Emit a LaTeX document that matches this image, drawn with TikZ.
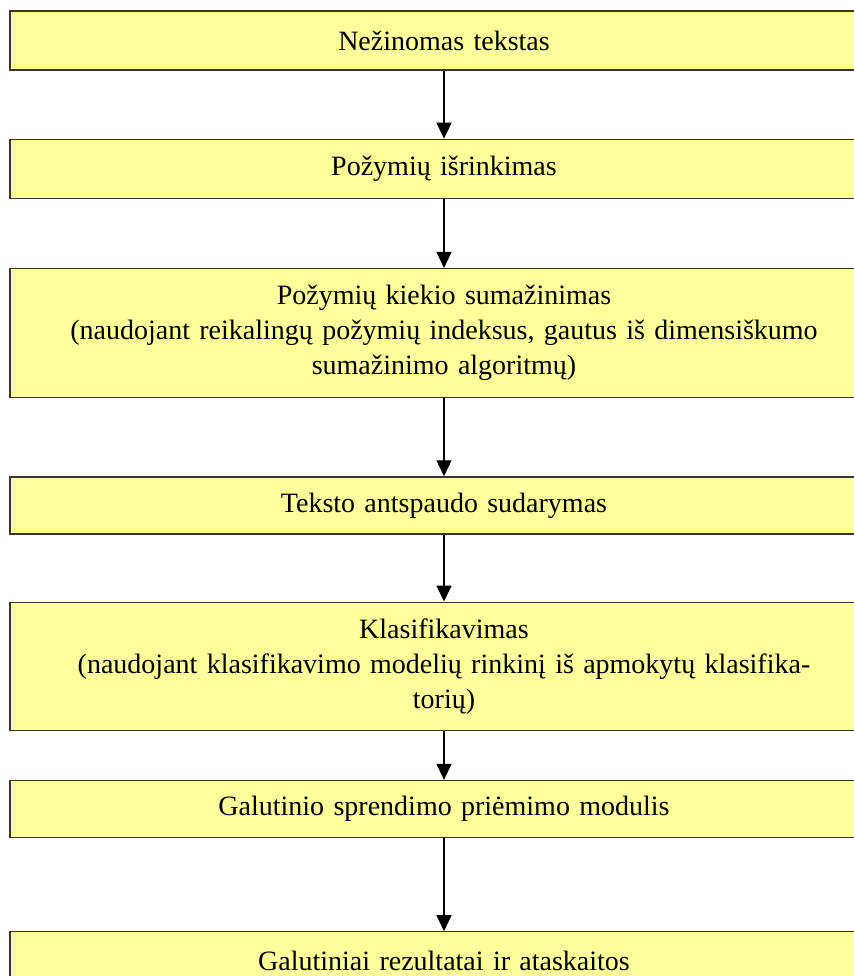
\documentclass[tikz,border=0pt]{standalone}
\usepackage{fontspec}
\setmainfont{Liberation Serif}
\usepackage{xcolor}
\usepackage{tikz}
\usetikzlibrary{positioning,arrows.meta}
\definecolor{paleyellow}{RGB}{255,255,155}
\definecolor{edgegray}{RGB}{55,55,50}
\tikzset{
  box/.style={draw=edgegray, line width=1.3pt, fill=paleyellow, minimum width=868pt,
              text width=850pt, inner xsep=9pt, inner ysep=4pt, align=center,
              font=\fontsize{28}{35}\selectfont},
  arrow/.style={-{Triangle[length=16pt,width=15pt]}, line width=1.4pt, black},
}

\begin{document}
\begin{tikzpicture}[x=1pt, y=1pt]
  \useasboundingbox (0,0) rectangle (853,-976);

  \node[box, minimum height=59pt] (s1) at (444,-40.5) {Nežinomas tekstas};
  \node[box, minimum height=59pt, below=68pt of s1]  (s2) {Požymių išrinkimas};
  \node[box, minimum height=129pt, below=69pt of s2] (s3) {Požymių kiekio sumažinimas\\
    (naudojant reikalingų požymių indeksus, gautus iš dimensiškumo\\ sumažinimo algoritmų)};
  \node[box, minimum height=57pt, below=78pt of s3]  (s4) {Teksto antspaudo sudarymas};
  \node[box, minimum height=128pt, below=67pt of s4] (s5) {Klasifikavimas\\
    (naudojant klasifikavimo modelių rinkinį iš apmokytų klasifika-\\ torių)};
  \node[box, minimum height=57pt, below=49pt of s5]  (s6) {Galutinio sprendimo priėmimo modulis};
  \node[box, minimum height=59pt, below=93pt of s6]  (s7) {Galutiniai rezultatai ir ataskaitos};

  \draw[arrow] (s1) -- (s2);
  \draw[arrow] (s2) -- (s3);
  \draw[arrow] (s3) -- (s4);
  \draw[arrow] (s4) -- (s5);
  \draw[arrow] (s5) -- (s6);
  \draw[arrow] (s6) -- (s7);
\end{tikzpicture}
\end{document}
